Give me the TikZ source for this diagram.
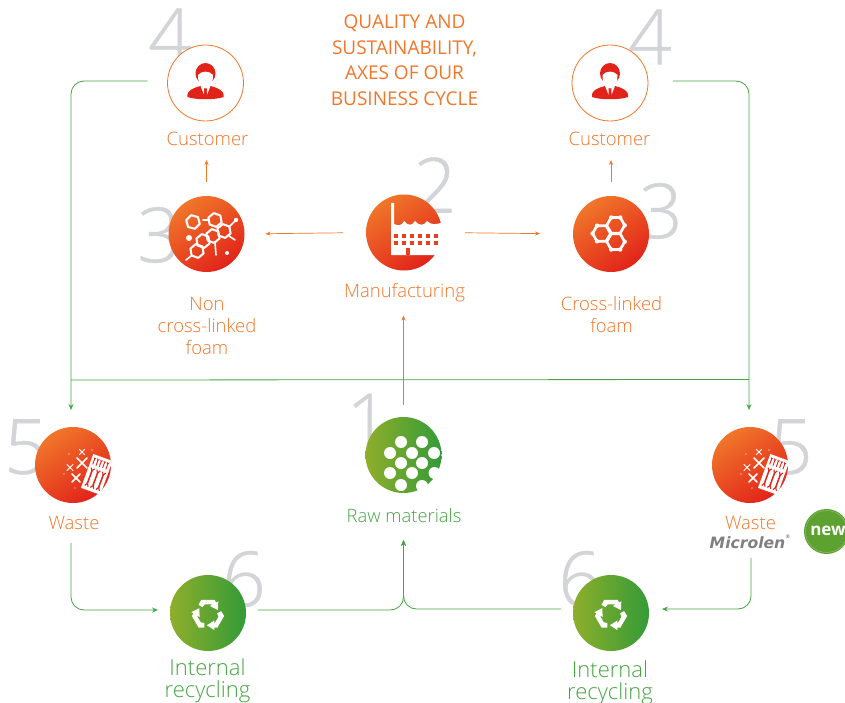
\documentclass[tikz,border=0pt]{standalone}
\usepackage{fontspec}
\setmainfont{Open Sans Light}
\newfontfamily\titlefont{Open Sans}
\newfontfamily\numfont[FakeBold=0.7]{Open Sans Light}
\newfontfamily\logofont{DejaVu Sans}
\usetikzlibrary{arrows.meta}

\definecolor{orangeA}{HTML}{F0762A}
\definecolor{redA}{HTML}{E2231A}
\definecolor{greenA}{HTML}{8FAE2B}
\definecolor{greenB}{HTML}{339B38}
\definecolor{lineGreen}{HTML}{45A442}
\definecolor{newGreen}{HTML}{5DA130}
\definecolor{numGrey}{HTML}{D2D4D8}

% ring of six bonds: x, y, radius, first angle
\newcommand{\hexring}[4]{
	\draw[bond, line width=#3/3.4] ([shift={(#4:#3)}]#1,#2) -- ([shift={(#4+60:#3)}]#1,#2) -- ([shift={(#4+120:#3)}]#1,#2)
		-- ([shift={(#4+180:#3)}]#1,#2) -- ([shift={(#4+240:#3)}]#1,#2) -- ([shift={(#4+300:#3)}]#1,#2) -- cycle;
}

% head and shoulders
\newcommand{\personicon}[2]{
	\begin{scope}[shift={(#1,#2)}]
		\fill[redA] (0,-9.5) ellipse (10 and 10.5);
		\fill[white] (-7.5,-8) .. controls (-4,-12.5) and (4,-12.5) .. (7.5,-8) .. controls (8,1) and (3,4) .. (0,4) .. controls (-3,4) and (-8,1) .. cycle;
		\fill[redA] (-18,14) .. controls (-19,7) and (-12,5) .. (-5,3) -- (0,7) -- (5,3) .. controls (12,5) and (19,7) .. (18,14)
			.. controls (10,17) and (-10,17) .. cycle;
		\fill[white] (-5,3) -- (0,15.5) -- (5,3) -- (0,5) -- cycle;
		\fill[redA] (-1.6,5.5) -- (1.6,5.5) -- (1.2,8) -- (2,14) -- (0,16) -- (-2,14) -- (-1.2,8) -- cycle;
	\end{scope}
}

% crosses and the rejected plate
\newcommand{\wasteicon}[1]{
	\begin{scope}[xshift=#1]
		\draw[cross] (77,458) -- (87,468) (87,458) -- (77,468);
		\draw[cross] (72,474) -- (80,482) (80,474) -- (72,482);
		\draw[cross, line width=1] (67,464.5) -- (73,470.5) (73,464.5) -- (67,470.5);
		\draw[cross, line width=1] (79.5,449.5) -- (84.5,454.5) (84.5,449.5) -- (79.5,454.5);
		\fill[white, opacity=.5] (69,454) circle (.8) (92,450) circle (.8) (64,474) circle (.8) (75,488) circle (.8) (88,475) circle (.8);
		\begin{scope}[shift={(97,474.5)}, rotate=-20]
			\fill[white] (-10.5,-18) rectangle (10,18);
			\foreach \wx in {-7.5,-4,-0.5,3,6.5} {
				\draw[redA, line width=.9] (\wx,-14.5) -- (\wx,-8);
				\draw[redA, line width=.7] (\wx-1,-15) -- (\wx,-13.5) -- (\wx+1,-15);
			}
			\foreach \wx in {-6,0,6} {
				\draw[redA, line width=1.5] (\wx,-2) -- (\wx,12);
				\draw[redA, line width=1.1] (\wx-1.8,-4.5) -- (\wx,-1.5) -- (\wx+1.8,-4.5);
				\draw[redA, line width=1.1] (\wx-1.8,14.5) -- (\wx,11.5) -- (\wx+1.8,14.5);
			}
		\end{scope}
	\end{scope}
}

% three chasing arrows
\newcommand{\recycleicon}[2]{
	\foreach \ang in {0,120,240} {
		\fill[white, rotate around={\ang:(#1,#2)}, shift={(#1,#2)}] (-9.45,-9.6) -- (-6.75,-14.7) -- (6.75,-14.7) -- (8.1,-12)
			-- (10.3,-13.25) -- (9.9,-4.4) -- (2,-8.5) -- (4.2,-9.75) -- (3.4,-10.2) -- (-3.2,-10.2) -- (-5.55,-7.35) -- cycle;
	}
}

\begin{document}
\begin{tikzpicture}[x=1pt, y=-1pt]
	\tikzstyle{num}=[numGrey, font=\numfont\fontsize{76}{76}\selectfont, inner sep=0]
	\tikzstyle{hot}=[circle, minimum size=76, inner sep=0, outer sep=0, top color=orangeA, bottom color=redA, shading angle=35]
	\tikzstyle{cool}=[circle, minimum size=76, inner sep=0, outer sep=0, left color=greenA, right color=greenB]
	\tikzstyle{client}=[circle, minimum size=76, inner sep=0, outer sep=0, draw=orangeA, line width=.8, fill=white]
	\tikzstyle{labelHot}=[orangeA, font=\fontsize{18.5}{22}\selectfont, align=center, inner sep=0]
	\tikzstyle{labelCool}=[lineGreen, font=\fontsize{18.4}{22}\selectfont, align=center, inner sep=0]
	\tikzstyle{labelRec}=[lineGreen, font=\fontsize{22}{22}\selectfont, align=center, inner sep=0]
	\tikzstyle{orangeFlow}=[orangeA, line width=.7, -{Stealth[length=5, width=4]}]
	\tikzstyle{greenFlow}=[lineGreen, line width=.8, rounded corners=13, -{Stealth[length=6, width=5]}]
	\tikzstyle{busGreen}=[lineGreen, line width=.8]
	\tikzstyle{bond}=[white, line join=round, line cap=round]
	\tikzstyle{cross}=[white, line width=1.5, line cap=round]

	\useasboundingbox (0,0) rectangle (845,703);

	\node[num] (N4a) at (170,36)	{4};
	\node[num] (N4b) at (650,37)	{4};
	\node[num] (N3a) at (159,235)	{3};
	\node[num] (N2) at (435,185)	{2};
	\node[num] (N3b) at (661,211)	{3};
	\node[num] (N1) at (368,421)	{1};
	\node[num] (N5a) at (26,447)	{5};
	\node[num] (N5b) at (791,447)	{5};
	\node[num] (N6a) at (244,579)	{6};
	\node[num] (N6b) at (580,579)	{6};

	\node[client] (Cust1) at (205.5,83)	{};
	\node[client] (Cust2) at (610,83)	{};
	\node[hot] (Foam1) at (206.5,234)	{};
	\node[hot] (Fact) at (404,232.5)	{};
	\node[hot] (Foam2) at (611,234)	{};
	\node[cool] (Raw) at (403.5,455)	{};
	\node[hot] (Waste1) at (73,465)	{};
	\node[hot] (Waste2) at (750,465)	{};
	\node[cool] (Rec1) at (208,613)	{};
	\node[cool] (Rec2) at (611,613)	{};

	\node[orangeA, font=\titlefont\fontsize{19}{25.5}\selectfont, align=center, inner sep=0] (Title) at (404.5,60)
		{QUALITY AND\\SUSTAINABILITY,\\AXES OF OUR\\BUSINESS CYCLE};
	\node[labelHot] (LabCust1) at (207.5,139)	{Customer};
	\node[labelHot] (LabCust2) at (609.5,139)	{Customer};
	\node[labelHot] (LabFoam1) at (207,326)	{Non\\cross-linked\\foam};
	\node[labelHot] (LabFact) at (404.5,293)	{Manufacturing};
	\node[labelHot] (LabFoam2) at (611.5,315)	{Cross-linked\\foam};
	\node[labelHot] (LabWaste1) at (74,523)	{Waste};
	\node[labelHot] (LabWaste2) at (750.5,523)	{Waste};
	\node[labelCool] (LabRaw) at (404,516)	{Raw materials};
	\node[labelRec] (LabRec1) at (207.5,680.5)	{Internal\\recycling};
	\node[labelRec] (LabRec2) at (610,682.5)	{Internal\\recycling};
	\node[gray, font=\logofont\bfseries\itshape\fontsize{15.6}{16}\selectfont, inner sep=0] (Logo) at (750,541.5)
		{Microlen\raisebox{1.2ex}{\fontsize{5}{5}\selectfont\textregistered}};

	\node[circle, minimum size=45, inner sep=0, fill=newGreen] (New) at (826.5,531.5)	{};
	\draw[white, opacity=.35, line width=.4] (New) circle (21);
	\node[white, font=\titlefont\bfseries\fontsize{17}{17}\selectfont, inner sep=0] (NewText) at (828,531)	{new};

	\coordinate (Bus1) at (71,380);
	\coordinate (Bus2) at (749,379.5);
	\draw[busGreen] (Bus1) -- (Bus2);

	\draw[orangeFlow, shorten <=14, shorten >=39] (Foam1.north) -- (Foam1.north |- Cust1.south);
	\draw[orangeFlow, shorten <=14, shorten >=39] (Foam2.north) -- (Foam2.north |- Cust2.south);
	\draw[orangeFlow, shorten <=23, shorten >=21] (Fact.west) -- (Foam1.east);
	\draw[orangeFlow, shorten <=23, shorten >=33] (Fact.east) -- (Foam2.west);
	\draw[orangeFlow, shorten <=12, shorten >=45] (Raw.north) -- (Fact.south -| Raw.north);

	\draw[greenFlow, shorten <=20, shorten >=17] ([yshift=2]Cust1.west) -| ([xshift=-2]Waste1.north);
	\draw[greenFlow, shorten <=25, shorten >=17] ([yshift=2]Cust2.east) -| ([xshift=-1]Waste2.north);
	\draw[greenFlow, shorten <=40, shorten >=12] ([xshift=-2]Waste1.south) |- ([yshift=3]Rec1.west);
	\draw[greenFlow, shorten <=55, shorten >=13] ([xshift=1]Waste2.south) |- ([yshift=4]Rec2.east);
	\draw[greenFlow, shorten <=12, shorten >=47] ([yshift=3]Rec1.east) -| (Raw.south);
	\draw[greenFlow, shorten <=12, shorten >=47] ([yshift=4]Rec2.west) -| (Raw.south);

	\personicon{205.5}{83}
	\personicon{610}{83}

	% manufacturing plant
	\fill[white] (391,203) -- (394,203) -- (394,224) .. controls (398,226) and (402,226) .. (404,221) .. controls (408,226) and (412,226) .. (415,221)
		.. controls (419,226) and (424,226) .. (427,221) .. controls (431,225) and (436,225) .. (443,222) -- (443,255) -- (391,255) -- cycle;
	\foreach \wx in {396,404,412,420,428,436} {
		\fill[orangeA!35!redA] (\wx-1.8,234.2) rectangle (\wx+1.8,237.8);
		\fill[orangeA!35!redA] (\wx-1.8,241.2) rectangle (\wx+1.8,244.8);
	}
	\fill[orangeA!35!redA] (406,248) rectangle (410,255);

	% open chain molecule
	\hexring{193}{222}{7}{15}
	\hexring{215}{220}{7}{20}
	\hexring{224}{231}{7}{20}
	\hexring{213}{236}{7}{20}
	\hexring{203}{241}{7}{20}
	\hexring{197}{251}{7}{20}
	\draw[bond, line width=1.6] (229,227) -- (236,220);
	\draw[bond, line width=1.6] (229,236) -- (235,240);
	\draw[bond, line width=1.6] (215,242) -- (216,255);
	\draw[bond, line width=1.6] (191,256) -- (186,260);
	\draw[bond, line width=1.6] (208,220) -- (203,220);
	\fill[white] (236,220) circle (2.2) (189,238) circle (3) (227,253) circle (2);

	% cross-linked molecule
	\hexring{601.5}{233.5}{9}{0}
	\hexring{615.7}{225.3}{9}{0}
	\hexring{615.7}{241.7}{9}{0}
	\foreach \bx/\by in {592.5/233.5,597/225.7,597/241.3,624.7/225.3,624.7/241.7,611.2/217.5,620.2/217.5,611.2/249.5,620.2/249.5} {
		\fill[white] (\bx,\by) circle (2.2);
	}

	\wasteicon{0}
	\wasteicon{677}

	% raw material grains
	\foreach \gx/\gy in {401/442,422/442,390/453,412/453,434/453,401/463,422/463,390/473,412/473,401/485,422/486,434.5/473} {
		\fill[white] (\gx,\gy) circle (6);
	}

	\recycleicon{208}{614.5}
	\recycleicon{611}{614.5}
\end{tikzpicture}
\end{document}
